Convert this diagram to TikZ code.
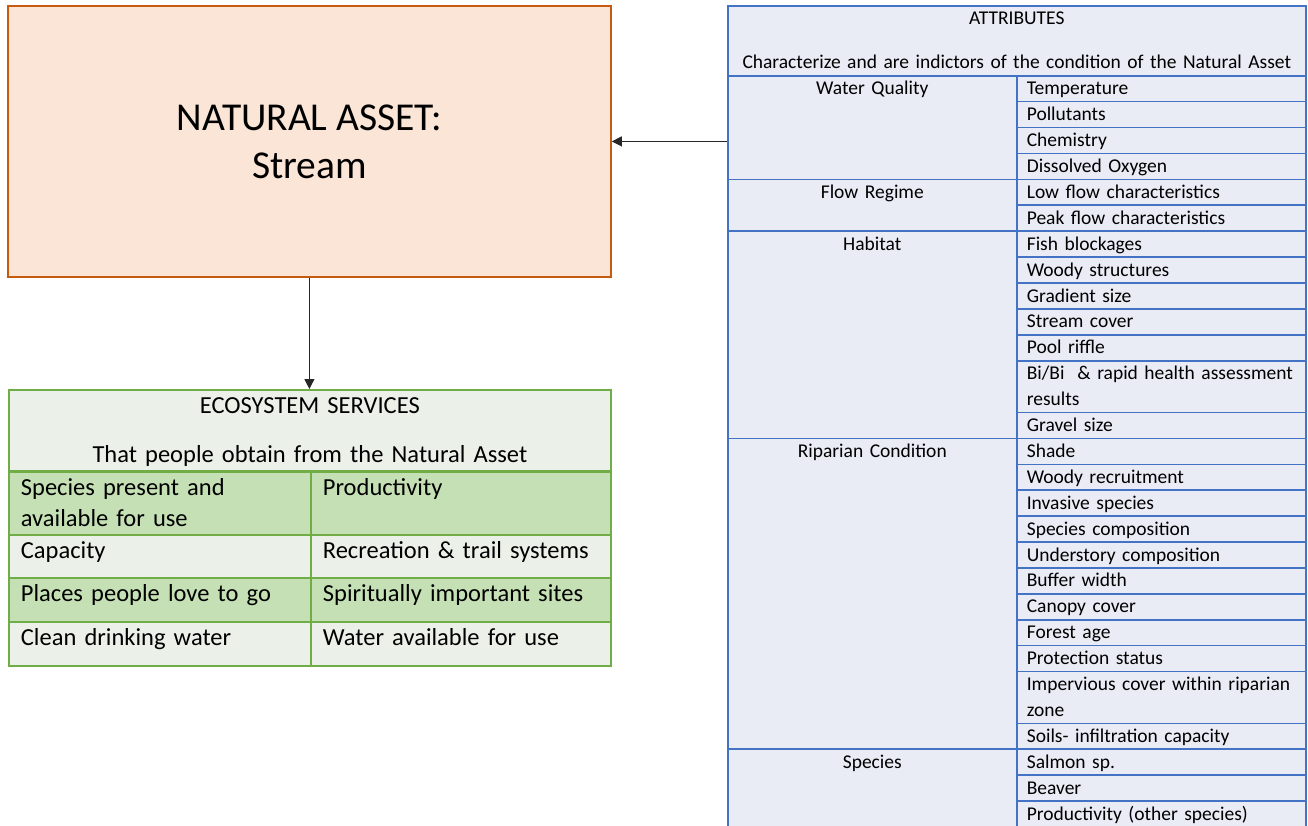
\documentclass[tikz,border=0pt]{standalone}
\usepackage{fontspec}
\setmainfont{Carlito}
\usetikzlibrary{arrows.meta}

\definecolor{assetfill}{HTML}{FBE5D6}
\definecolor{assetline}{HTML}{C55A11}
\definecolor{svcline}{HTML}{70AD47}
\definecolor{svcdark}{HTML}{C5E0B4}
\definecolor{svclight}{HTML}{EBF1E9}
\definecolor{attrline}{HTML}{4472C4}
\definecolor{attrfill}{HTML}{E9EBF5}

\newcommand{\assetfont}{\fontsize{39.5}{48}\selectfont}
\newcommand{\svcfont}{\fontsize{24.5}{31}\selectfont}
\newcommand{\attrfont}{\fontsize{19.5}{25.9}\selectfont}

\begin{document}
\begin{tikzpicture}[x=1pt,y=1pt,yscale=-1,
  conn/.style={draw=black!85, line width=1.1pt, -{Triangle[length=10pt,width=10pt]}},
  svccell/.style={draw=svcline, line width=1.8pt, anchor=north west, inner xsep=12pt, inner ysep=0pt, align=left, text height=24pt, font=\svcfont},
  attrcell/.style={draw=attrline, fill=attrfill, line width=1.6pt, anchor=north west, inner xsep=10pt, inner ysep=0pt, text width=269pt, align=left, text height=19pt, text depth=6.9pt, font=\attrfont},
  attrgroup/.style={attrcell, align=center}]
%set diagram to the page size
\useasboundingbox (0,0) rectangle (1308,826);

%Shape: Rectangle [natural asset]
\node[draw=assetline, fill=assetfill, line width=1.8pt, anchor=north west, minimum width=603pt, minimum height=271pt, inner sep=0pt, align=center, font=\assetfont] (asset) at (7,5) {NATURAL ASSET:\\Stream};

%Table [ecosystem services]
\node[svccell, fill=svclight, text width=578pt, align=center, text depth=57pt] (svchead) at (8,389) {ECOSYSTEM SERVICES\\[18pt]That people obtain from the Natural Asset};
\node[svccell, fill=svcdark, text width=278pt, text depth=39pt] (species) at (8,471) {Species present and\\available for use};
\node[svccell, fill=svcdark, text width=276pt, text depth=39pt] (product) at (310,471) {Productivity};
\node[svccell, fill=svclight, text width=278pt, text depth=19pt] (capacity) at (8,534) {Capacity};
\node[svccell, fill=svclight, text width=276pt, text depth=19pt] (recreation) at (310,534) {Recreation \& trail systems};
\node[svccell, fill=svcdark, text width=278pt, text depth=20pt] (places) at (8,577) {Places people love to go};
\node[svccell, fill=svcdark, text width=276pt, text depth=20pt] (spirit) at (310,577) {Spiritually important sites};
\node[svccell, fill=svclight, text width=278pt, text depth=20pt] (drinking) at (8,621) {Clean drinking water};
\node[svccell, fill=svclight, text width=276pt, text depth=20pt] (wateruse) at (310,621) {Water available for use};

%Table [attributes]
\node[attrcell, inner xsep=4pt, text width=570pt, align=center, text depth=51pt] (attrhead) at (727,5) {ATTRIBUTES\\[18.1pt]Characterize and are indictors of the condition of the Natural Asset};
% Group Cells
\node[attrgroup, text depth=84.6pt] (quality) at (727,75) {Water Quality};
\node[attrgroup, text depth=32.8pt] (flow) at (727,178.6) {Flow Regime};
\node[attrgroup, text depth=188.2pt] (habitat) at (727,230.4) {Habitat};
\node[attrgroup, text depth=291.8pt] (riparian) at (727,437.6) {Riparian Condition};
\node[attrgroup, text depth=58.7pt] (animals) at (727,748.4) {Species};
% Item Cells
\node[attrcell] (temp) at (1016,75) {Temperature};
\node[attrcell] (pollut) at (1016,100.9) {Pollutants};
\node[attrcell] (chem) at (1016,126.8) {Chemistry};
\node[attrcell] (oxygen) at (1016,152.7) {Dissolved Oxygen};
\node[attrcell] (lowflow) at (1016,178.6) {Low flow characteristics};
\node[attrcell] (peakflow) at (1016,204.5) {Peak flow characteristics};
\node[attrcell] (fish) at (1016,230.4) {Fish blockages};
\node[attrcell] (woody) at (1016,256.3) {Woody structures};
\node[attrcell] (gradient) at (1016,282.2) {Gradient size};
\node[attrcell] (cover) at (1016,308.1) {Stream cover};
\node[attrcell] (pool) at (1016,334) {Pool riffle};
\node[attrcell, text depth=32.8pt] (bibi) at (1016,359.9) {Bi/Bi~ \& rapid health assessment\\results};
\node[attrcell] (gravel) at (1016,411.7) {Gravel size};
\node[attrcell] (shade) at (1016,437.6) {Shade};
\node[attrcell] (recruit) at (1016,463.5) {Woody recruitment};
\node[attrcell] (invasive) at (1016,489.4) {Invasive species};
\node[attrcell] (compos) at (1016,515.3) {Species composition};
\node[attrcell] (understory) at (1016,541.2) {Understory composition};
\node[attrcell] (buffer) at (1016,567.1) {Buffer width};
\node[attrcell] (canopy) at (1016,593) {Canopy cover};
\node[attrcell] (forest) at (1016,618.9) {Forest age};
\node[attrcell] (protect) at (1016,644.8) {Protection status};
\node[attrcell, text depth=32.8pt] (impervious) at (1016,670.7) {Impervious cover within riparian\\zone};
\node[attrcell] (soils) at (1016,722.5) {Soils- infiltration capacity};
\node[attrcell] (salmon) at (1016,748.4) {Salmon sp.};
\node[attrcell] (beaver) at (1016,774.3) {Beaver};
\node[attrcell] (others) at (1016,800.2) {Productivity (other species)};

%Straight Lines [connectors]
\draw[conn] (asset.south) -- (asset.south |- svchead.north);
\draw[conn] (quality.west |- asset.east) -- (asset.east);

\end{tikzpicture}
\end{document}
